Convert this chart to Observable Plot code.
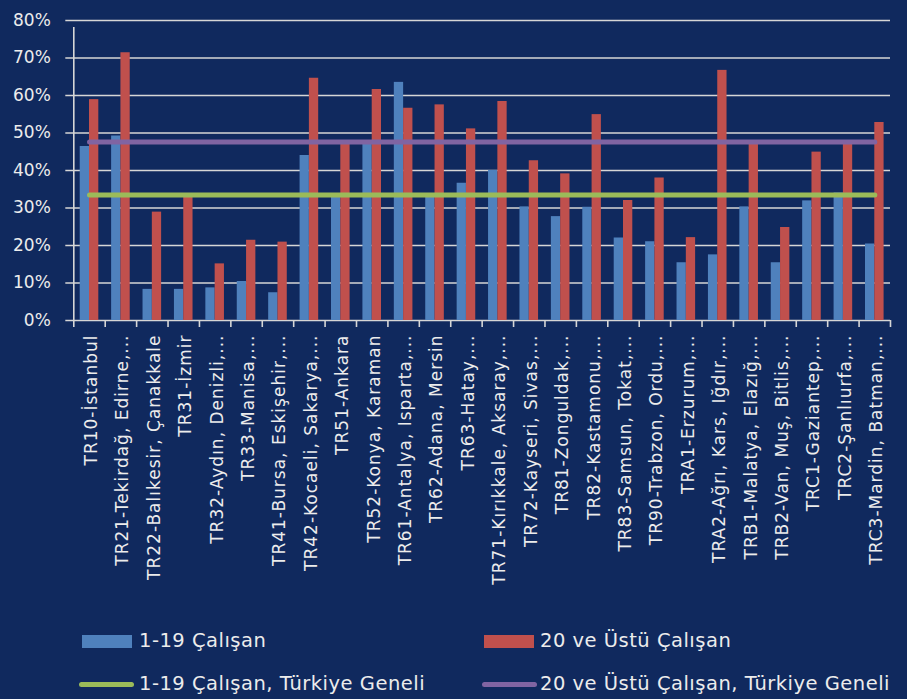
<!DOCTYPE html>
<html>
<head>
<meta charset="utf-8">
<script src="https://cdn.jsdelivr.net/npm/d3@7"></script>
<script src="https://cdn.jsdelivr.net/npm/@observablehq/plot@0.6"></script>
<style>
  html, body { margin: 0; padding: 0; background: #10295e; }
  #wrap { position: relative; width: 907px; height: 699px; background: #10295e; overflow: hidden; font-family: "DejaVu Sans", sans-serif; color: #ececec; }
  #chart { position: absolute; left: 0; top: 0; }
  .lg { position: absolute; font-size: 19.5px; letter-spacing: 0.5px; line-height: 1; white-space: nowrap; }
  .sw { position: absolute; }
  .xax text { letter-spacing: 1px; }
</style>
</head>
<body>
<div id="wrap">
  <div id="chart"></div>
</div>
<script>
const categories = [
  "TR10-İstanbul",
  "TR21-Tekirdağ, Edirne,...",
  "TR22-Balıkesir, Çanakkale",
  "TR31-İzmir",
  "TR32-Aydın, Denizli,...",
  "TR33-Manisa,...",
  "TR41-Bursa, Eskişehir,...",
  "TR42-Kocaeli, Sakarya,...",
  "TR51-Ankara",
  "TR52-Konya, Karaman",
  "TR61-Antalya, Isparta,...",
  "TR62-Adana, Mersin",
  "TR63-Hatay,...",
  "TR71-Kırıkkale, Aksaray,...",
  "TR72-Kayseri, Sivas,...",
  "TR81-Zonguldak,...",
  "TR82-Kastamonu,...",
  "TR83-Samsun, Tokat,...",
  "TR90-Trabzon, Ordu,...",
  "TRA1-Erzurum,...",
  "TRA2-Ağrı, Kars, Iğdır,...",
  "TRB1-Malatya, Elazığ,...",
  "TRB2-Van, Muş, Bitlis,...",
  "TRC1-Gaziantep,...",
  "TRC2-Şanlıurfa,...",
  "TRC3-Mardin, Batman,..."
];
const small = [46.4, 49.2, 8.3, 8.3, 8.7, 10.4, 7.4, 44.0, 33.0, 47.0, 63.5, 33.0, 36.6, 40.0, 30.3, 27.7, 30.2, 22.0, 21.0, 15.4, 17.5, 30.3, 15.4, 31.9, 34.0, 20.4];
const large = [58.9, 71.4, 28.9, 33.1, 15.1, 21.4, 20.9, 64.6, 47.0, 61.6, 56.6, 57.5, 51.1, 58.4, 42.6, 39.1, 54.9, 32.0, 38.0, 22.1, 66.7, 47.0, 24.8, 44.9, 47.0, 52.8];
const avgSmall = 33.5;
const avgLarge = 47.6;
const yTicks = [0, 10, 20, 30, 40, 50, 60, 70, 80];
const seriesNames = ["1-19 Çalışan", "20 ve Üstü Çalışan", "1-19 Çalışan, Türkiye Geneli", "20 ve Üstü Çalışan, Türkiye Geneli"];
const colors = ["#4f81bd", "#c0504d", "#9bbb59", "#8064a2"];

const rows = categories.map((c, i) => ({region: c, small: small[i], large: large[i], avgSmall, avgLarge}));

const W = 907, H = 610, mL = 73.3, mR = 17, mT = 20, mB = 290;
const step = (W - mL - mR) / categories.length;
const half = step / 2;
const barW = 9.3;
const gridColor = "#d6d6d6";

const chart = Plot.plot({
  width: W, height: H,
  marginLeft: mL, marginRight: mR, marginTop: mT, marginBottom: mB,
  style: {background: "transparent", color: "#ececec", fontFamily: "DejaVu Sans, sans-serif", fontSize: "17px"},
  x: {domain: categories, padding: 0, round: false, label: null},
  y: {domain: [0, 80], label: null},
  marks: [
    Plot.ruleY(yTicks, {stroke: gridColor, strokeWidth: 1.6, insetLeft: -8}),
    Plot.barY(rows, {x: "region", y: "small", fill: colors[0], insetLeft: half - barW, insetRight: half}),
    Plot.barY(rows, {x: "region", y: "large", fill: colors[1], insetLeft: half, insetRight: half - barW}),
    Plot.ruleX(categories, {x: d => d, y1: 0, y2: 0, dx: -half, insetBottom: -7, stroke: gridColor, strokeWidth: 1.6}),
    Plot.ruleX([categories[categories.length - 1]], {x: d => d, y1: 0, y2: 0, dx: half, insetBottom: -7, stroke: gridColor, strokeWidth: 1.6}),
    Plot.ruleX([categories[0]], {x: d => d, y1: 0, y2: 80, dx: -half, insetBottom: -7, stroke: gridColor, strokeWidth: 1.6}),
    Plot.lineY(rows, {x: "region", y: "avgSmall", stroke: colors[2], strokeWidth: 5, strokeLinecap: "round"}),
    Plot.lineY(rows, {x: "region", y: "avgLarge", stroke: colors[3], strokeWidth: 5, strokeLinecap: "round"}),
    Plot.axisY(yTicks, {tickSize: 0, tickPadding: 23, tickFormat: d => d + "%", fontSize: 17, fill: "#ececec"}),
    Plot.axisX({tickSize: 0, tickRotate: -90, tickPadding: 14, dx: 2, fontSize: 17, fill: "#ececec", label: null, className: "xax"})
  ]
});
document.getElementById("chart").appendChild(chart);

// legend
const wrap = document.getElementById("wrap");
const legendItems = [
  {name: seriesNames[0], color: colors[0], kind: "bar", sx: 82, tx: 139, y: 641},
  {name: seriesNames[1], color: colors[1], kind: "bar", sx: 484, tx: 540, y: 641},
  {name: seriesNames[2], color: colors[2], kind: "line", sx: 79, tx: 139, y: 684},
  {name: seriesNames[3], color: colors[3], kind: "line", sx: 482, tx: 540, y: 684}
];
legendItems.forEach(it => {
  const s = document.createElement("div");
  s.className = "sw";
  s.style.background = it.color;
  if (it.kind === "bar") {
    s.style.left = it.sx + "px"; s.style.width = "50px";
    s.style.top = (it.y - 6.5) + "px"; s.style.height = "13px";
  } else {
    s.style.left = it.sx + "px"; s.style.width = "55px";
    s.style.top = (it.y - 2.5) + "px"; s.style.height = "5px";
    s.style.borderRadius = "3px";
  }
  wrap.appendChild(s);
  const t = document.createElement("div");
  t.className = "lg";
  t.textContent = it.name;
  t.style.left = it.tx + "px";
  t.style.top = (it.y - 10) + "px";
  wrap.appendChild(t);
});
</script>
</body>
</html>
